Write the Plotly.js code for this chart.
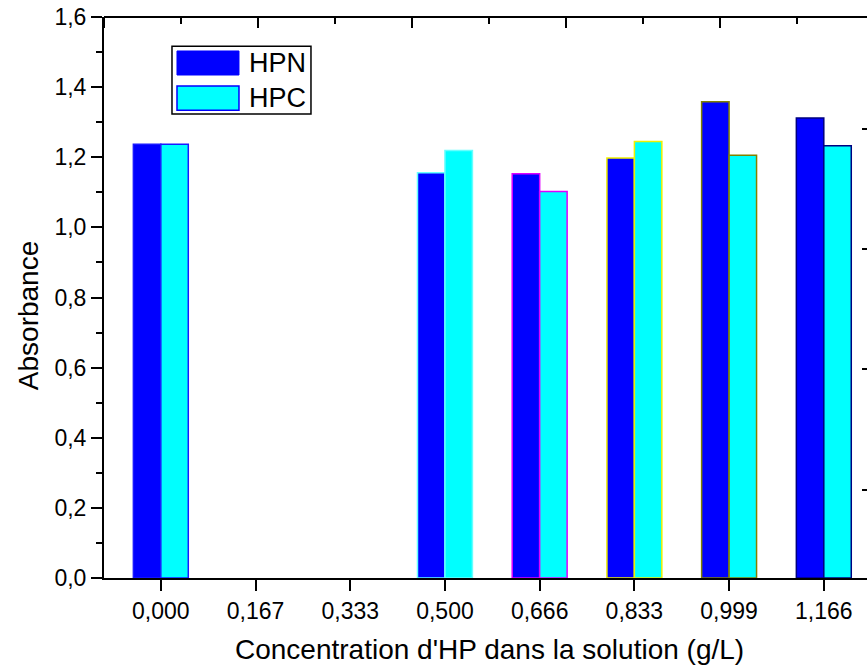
<!DOCTYPE html>
<html>
<head>
<meta charset="utf-8">
<script src="https://cdn.plot.ly/plotly-3.0.1.min.js"></script>
<style>
html, body { margin: 0; padding: 0; overflow: hidden; background: #fff; }
#chart { width: 880px; height: 671px; }
</style>
</head>
<body>
<div id="chart"></div>
<script>
// Data
const categories = ['0,000', '0,167', '0,333', '0,500', '0,666', '0,833', '0,999', '1,166'];
const hpnValues = [1.237, null, null, 1.156, 1.153, 1.198, 1.358, 1.312];
const hpcValues = [1.237, null, null, 1.219, 1.102, 1.245, 1.206, 1.233];
const outlineColors = ['#1a1aff', '#000000', '#000000', '#66ffff', '#dd00ff', '#f0f000', '#808000', '#000080'];
const seriesNames = ['HPN', 'HPC'];
const seriesColors = ['#0000ff', '#00ffff'];
const rightTickVals = [0.251, 0.596, 0.938, 1.281];
const topMajorTicks = [0, 1, 2, 3, 4, 5];
const topMinorTicks = [0.5, 1.5, 2.5, 3.5, 4.5];

const FONT = 'Liberation Sans, Arial, sans-serif';

const traces = [
  {
    type: 'bar', name: seriesNames[0], x: categories, y: hpnValues,
    marker: { color: seriesColors[0], line: { color: outlineColors, width: 1.5 } },
    showlegend: false, hoverinfo: 'skip'
  },
  {
    type: 'bar', name: seriesNames[1], x: categories, y: hpcValues,
    marker: { color: seriesColors[1], line: { color: outlineColors, width: 1.5 } },
    showlegend: false, hoverinfo: 'skip'
  },
  { type: 'scatter', mode: 'markers', x: [null], y: [null], xaxis: 'x', yaxis: 'y2', showlegend: false, hoverinfo: 'skip' }
];

// Legend drawn as layout decoration (large swatches like the reference)
const shapes = [
  { type: 'rect', xref: 'paper', yref: 'paper', x0: 0.0883, x1: 0.2688, y0: 0.827, y1: 0.948,
    line: { color: '#000', width: 1.5 }, fillcolor: '#fff', layer: 'above' },
  { type: 'rect', xref: 'paper', yref: 'paper', x0: 0.0948, x1: 0.1753, y0: 0.8966, y1: 0.9394,
    line: { color: seriesColors[0], width: 1 }, fillcolor: seriesColors[0], layer: 'above' },
  { type: 'rect', xref: 'paper', yref: 'paper', x0: 0.0948, x1: 0.1753, y0: 0.834, y1: 0.877,
    line: { color: '#0000ff', width: 1.5 }, fillcolor: seriesColors[1], layer: 'above' },
  // top frame line
  { type: 'line', xref: 'paper', yref: 'paper', x0: 0, x1: 1, y0: 1, y1: 1,
    line: { color: '#000', width: 2 }, layer: 'above' }
];
// Top frame tick marks (inside), 5 major divisions with halves, as in the reference
const PLOT_H = 671 - 17 - 93;
topMajorTicks.forEach(function (v) {
  shapes.push({ type: 'path', xref: 'paper', yref: 'paper',
    path: 'M ' + (v / 5) + ' 1 L ' + (v / 5) + ' ' + (1 - 11 / PLOT_H),
    line: { color: '#000', width: 2 }, layer: 'above' });
});
topMinorTicks.forEach(function (v) {
  shapes.push({ type: 'path', xref: 'paper', yref: 'paper',
    path: 'M ' + (v / 5) + ' 1 L ' + (v / 5) + ' ' + (1 - 7 / PLOT_H),
    line: { color: '#000', width: 2 }, layer: 'above' });
});

const annotations = [
  { xref: 'paper', yref: 'paper', x: 0.186, y: 0.918, text: seriesNames[0], showarrow: false,
    xanchor: 'left', yanchor: 'middle', font: { family: FONT, size: 27, color: '#000' } },
  { xref: 'paper', yref: 'paper', x: 0.186, y: 0.8556, text: seriesNames[1], showarrow: false,
    xanchor: 'left', yanchor: 'middle', font: { family: FONT, size: 27, color: '#000' } },
  { xref: 'paper', yref: 'paper', x: 0.5, y: -0.128, text: "Concentration d'HP dans la solution (g/L)", showarrow: false,
    xanchor: 'center', yanchor: 'middle', font: { family: FONT, size: 28, color: '#000' } },
  { xref: 'paper', yref: 'paper', x: -0.0985, y: 0.467, text: 'Absorbance', showarrow: false, textangle: -90,
    xanchor: 'center', yanchor: 'middle', font: { family: FONT, size: 28, color: '#000' } }
];

const layout = {
  width: 880, height: 671,
  margin: { l: 104, r: 6, t: 17, b: 93 },
  paper_bgcolor: '#fff', plot_bgcolor: '#fff',
  separators: ', ',
  barmode: 'group', bargap: 0.42, bargroupgap: 0,
  font: { family: FONT, color: '#000' },
  showlegend: false,
  xaxis: {
    type: 'category', range: [-0.6, 7.53],
    showline: true, linecolor: '#000', linewidth: 2,
    ticks: 'outside', ticklen: 11, tickwidth: 2, tickcolor: '#000',
    showgrid: false, zeroline: false,
    tickfont: { family: FONT, size: 23, color: '#000' }
  },
  yaxis: {
    range: [0, 1.6], dtick: 0.2, tickformat: '.1f',
    showline: true, linecolor: '#000', linewidth: 2,
    ticks: 'outside', ticklen: 11, tickwidth: 2, tickcolor: '#000',
    minor: { dtick: 0.1, ticks: 'outside', ticklen: 6, tickwidth: 2, tickcolor: '#000', showgrid: false },
    showgrid: false, zeroline: false,
    tickfont: { family: FONT, size: 23, color: '#000' }
  },
  yaxis2: {
    type: 'linear', overlaying: 'y', anchor: 'x', side: 'right', range: [0, 1.6],
    tickmode: 'array', tickvals: rightTickVals,
    showline: true, linecolor: '#000', linewidth: 2,
    ticks: 'inside', ticklen: 12, tickwidth: 2, tickcolor: '#000',
    showticklabels: false, showgrid: false, zeroline: false
  },
  shapes: shapes,
  annotations: annotations
};

Plotly.newPlot('chart', traces, layout, { staticPlot: true, displayModeBar: false });
</script>
</body>
</html>
